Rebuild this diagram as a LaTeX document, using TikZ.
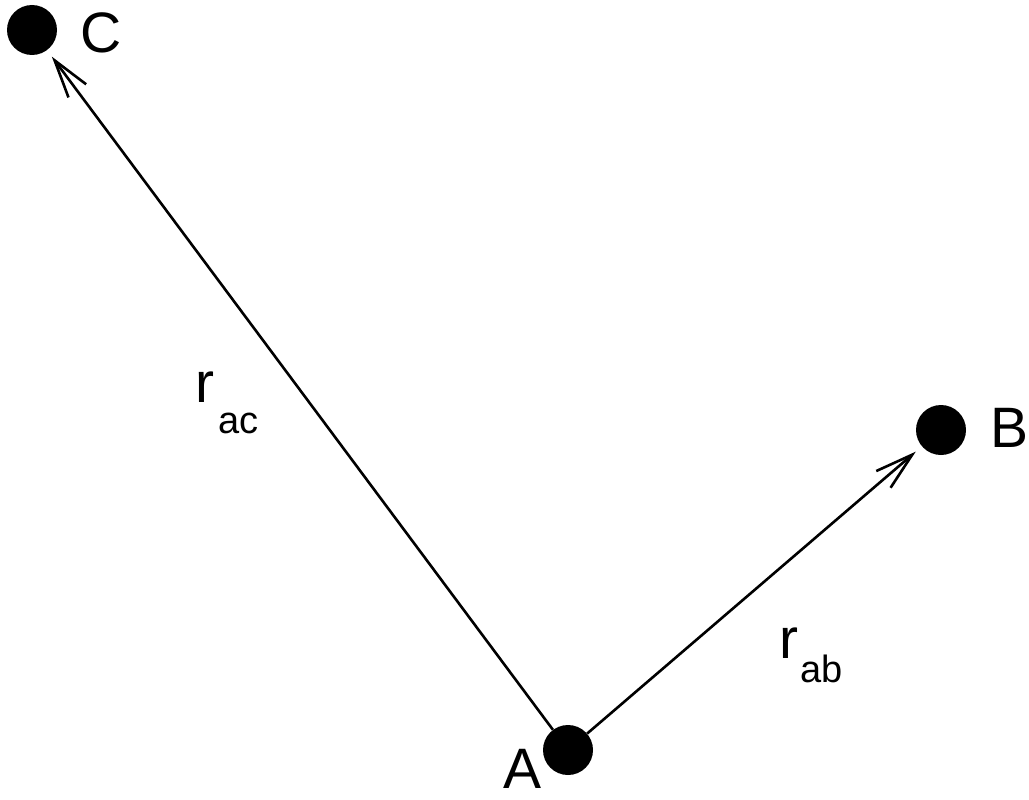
\documentclass[tikz,border=0pt]{standalone}
\usepackage{fontspec}
\setmainfont{Liberation Sans}
\usetikzlibrary{arrows.meta}
\tikzset{
  dot/.style={circle,fill=black,minimum size=50pt,inner sep=0pt},
  big/.style={font=\fontsize{57}{60}\selectfont,inner sep=0pt},
  small/.style={font=\fontsize{38}{40}\selectfont,inner sep=0pt},
  vec/.style={line width=2.6pt,-{Straight Barb[length=38pt,width=22pt,line width=2.6pt]},shorten >=8pt}
}
\begin{document}
\begin{tikzpicture}[x=1pt,y=-1pt]
\useasboundingbox (0,0) rectangle (1029,800);
\node[dot] (C) at (32,30) {};
\node[dot] (B) at (941,430) {};
\node[dot] (A) at (568,750) {};
\node[big,anchor=base west] (Cl) at (80,53) {C};
\node[big,anchor=base west] (Bl) at (990,447) {B};
\node[big,anchor=base west] (Al) at (503,788) {A};
\node[big,anchor=base west] (r1) at (195,402) {r};
\node[small,anchor=base west] (s1) at (218,433) {ac};
\node[big,anchor=base west] (r2) at (779,658) {r};
\node[small,anchor=base west] (s2) at (800,682) {ab};
\draw[vec] (A) -- (C);
\draw[vec] (A) -- (B);
\end{tikzpicture}
\end{document}
